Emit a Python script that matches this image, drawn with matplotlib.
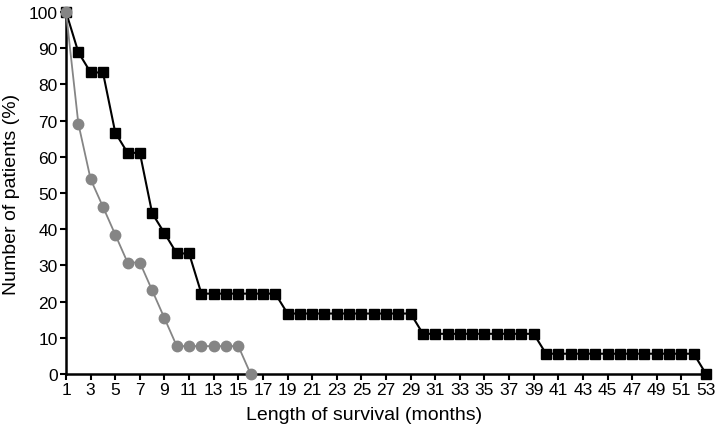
import matplotlib
matplotlib.use("Agg")
import matplotlib.pyplot as plt

plt.rcParams['font.family'] = ['Liberation Sans', 'DejaVu Sans']

# survival data (% of patients alive at each month)
months_a = list(range(1, 54))
survival_a = ([100, 88.9, 83.3, 83.3, 66.7, 61.1, 61.1, 44.4, 38.9, 33.3, 33.3]
              + [22.2] * 7 + [16.7] * 11 + [11.1] * 10 + [5.6] * 13 + [0])

months_b = list(range(1, 17))
survival_b = [100, 69.2, 53.8, 46.2, 38.5, 30.8, 30.8, 23.1, 15.4,
              7.7, 7.7, 7.7, 7.7, 7.7, 7.7, 0]

x_ticks = list(range(1, 54, 2))
y_ticks = list(range(0, 101, 10))

fig = plt.figure(figsize=(7.2, 4.39), dpi=100)
ax = fig.add_axes([0.0917, 0.1458, 0.8889, 0.8245])

ax.plot(months_a, survival_a, color='black', marker='s', markersize=6.5,
        linewidth=1.5, clip_on=False, zorder=3)
ax.plot(months_b, survival_b, color='#858585', marker='o', markersize=7.5,
        linewidth=1.3, clip_on=False, zorder=4)

ax.set_xlim(1, 53)
ax.set_ylim(0, 100)
ax.set_xticks(x_ticks)
ax.set_yticks(y_ticks)
ax.spines['top'].set_visible(False)
ax.spines['right'].set_visible(False)
ax.spines['left'].set_linewidth(1.8)
ax.spines['bottom'].set_linewidth(1.8)
ax.tick_params(axis='both', direction='out', length=4, width=1.5, labelsize=12.5, pad=2)

ax.set_xlabel('Length of survival (months)', fontsize=14)
ax.xaxis.set_label_coords(0.466, -0.088)
ax.set_ylabel('Number of patients (%)', fontsize=14, labelpad=6)

fig.savefig('out.png', dpi=100)
